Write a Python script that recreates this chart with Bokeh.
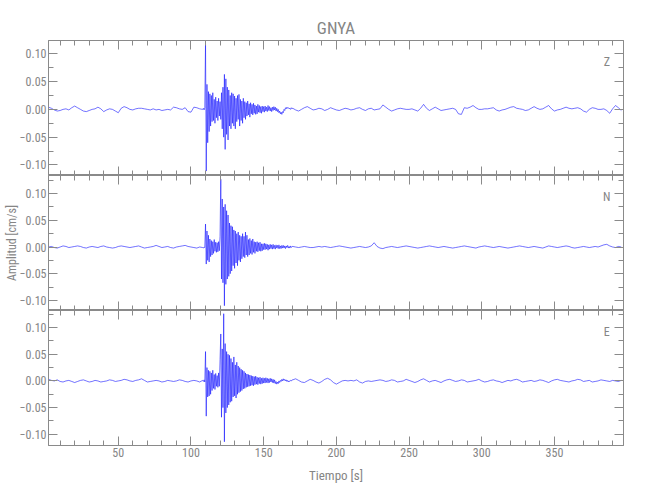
import numpy as np
from bokeh.plotting import figure
from bokeh.layouts import column
from bokeh.models import (LinearAxis, SingleIntervalTicker, CustomJSTickFormatter,
                          Range1d, Label, Title)
from bokeh.embed import file_html
from bokeh.resources import INLINE

# ---------------- data ----------------
STATION = "GNYA"
X_LABEL = "Tiempo [s]"
Y_LABEL = "Amplitud [cm/s]"
T_START, T_END = 2.0, 397.5
DT_QUIET = 2.0      # s, sampling of the quiet parts
DT_EVENT = 0.5      # s, sampling of peaks/troughs read in the event window
T_EVENT = 108.0
T_POST = 170.0
UNIT = 0.001        # values below are in 1e-3 cm/s

z_pre = [4, 2, -1, -3, -2, 0, 1, -1, 3, 6, 3, 0, -3, -4, -2, 0, 1, 4, 1, -4,
         -1, 1, 0, -3, -6, 2, 5, 3, 0, -1, 1, 2, 2, 1, 0, -1, 1, -1, 0, -2,
         -1, 0, -1, 4, 3, 1, 0, 3, -4, -5, 4, 3, 1]
z_event = [0, 2, -1, 3, 118, -111, 45, -60, 32, -40, 28, -30, 25, -22, 30, -20,
           18, -25, 22, -15, 15, -20, 20, -12, 14, -18, 30, -35, 40, -50, 63, -72,
           55, -45, 40, -55, 35, -30, 25, -35, 30, -25, 28, -30, 24, -35, 20, -22,
           25, -18, 27, -30, 18, -20, 15, -25, 20, -15, 14, -18, 12, -12, 15, -10,
           10, -14, 12, -8, 9, -10, 11, -7, 8, -9, 6, -8, 9, -5, 7, -6,
           5, -7, 6, -4, 5, -5, 6, -3, 4, -4, 7, -2, 5, -3, 3, -4,
           4, -2, 5, -1, 4, -3, 2, -4, 0, -6, -3, -8, -5, -9, -4, -6,
           0, -2, 3, 1, 4, 2, 3, 1, 2, 0, 3, 1]
z_post = [2, -1, -3, 0, 3, 5, 2, -1, 0, 2, 1, -2, 0, 3, 1, -1, -2, 0, 2, 1,
          -1, 0, 2, 3, 0, -2, 1, 2, -1, 0, 1,
          8, 4, 0, -3, -1, 1, 2, 1, 0, 0, 1, -1, -3, 2, 9, 2, -2, 1, 4, 1,
          -2, -1, 0, 1, 2, 0, -8, -9, 3, 2, 4, 7, 3, 0, 0, 1, 1, 2, 3, -1,
          -3, -1, 0, 2, 4, 5, 2, 1, 0, -2, -1, 2, 5, 2, 0, 1, 4, 7, 1, -3,
          -1, 0, 2, 4, 2, 1, 2, 3, 1, -3, -5, 0, 3, 2, 0, 0, 1, -2, -7, 1,
          7, 3, -2]

n_pre = [0, 1, -1, -2, 0, 2, 1, -1, 0, 1, 2, 1, -1, -2, 0, 1, 0, -1, 1, 2,
         0, -1, -2, -1, 1, 2, 1, 0, -1, 0, 1, 2, 0, -2, -1, 0, 1, 3, 1, -1,
         0, 1, -1, -2, 0, 1, 2, 3, 1, 0, -1, -2, 0]
n_event = [-1, -2, 0, -1, 43, -32, 30, -25, 22, -28, 15, -18, 12, -15, 10, -12,
           14, -8, 9, -10, 8, -9, 10, -7, 20, 127, -60, 90, -67, 75, -110, 80,
           -70, 68, -60, 60, -55, 45, -50, 40, -45, 38, -35, 32, -40, 30, -30, 25,
           -35, 28, -25, 22, -28, 20, -22, 25, -18, 20, -20, 28, -15, 22, -18, 14,
           -15, 16, -12, 12, -14, 15, -10, 10, -12, 9, -8, 10, -9, 8, -7, 9,
           -8, 6, -7, 6, -5, 7, -5, 6, -4, 5, -6, 4, -4, 5, -3, 4,
           -4, 5, -3, 3, -4, 4, -2, 3, -3, 4, -3, 2, -3, 3, -2, 3,
           -2, 2, -3, 2, -1, 3, -2, 1, -2, 2, -1, 1]
n_post = [1, 0, -1, 0, 1, 0, -1, -1, 0, 1, 0, 1, 0, -1, 0, 1, 2, 1, 0, -1,
          -2, -1, 0, 1, 0, -1, 0, 2, 8, 1, -2,
          -3, -1, 0, 1, 0, -1, 0, 1, 2, 1, 0, -1, -2, -1, 0, 1, 2, 1, 0, -1,
          0, 1, 0, -1, -2, -1, 0, 1, 2, 1, 0, -1, -2, 0, 1, 2, 1, 0, -1, 0,
          1, 0, -1, -2, -1, 0, 1, 2, 1, 0, -1, 0, 1, 0, -1, -2, 0, 2, 1, 0,
          -1, 0, 1, 2, 1, -1, -2, -1, 0, 1, 0, -1, 0, 1, 0, 2, 4, 5, 2, 0,
          -1, 1, 0]

e_pre = [3, 1, 0, 2, -1, -2, 0, 1, -1, -3, -1, 1, 2, 0, -2, -1, 1, 0, -2, -1,
         0, 2, 1, -1, 0, 1, 3, 2, 0, -1, 1, 2, 4, 1, -2, -1, 0, 1, 0, -2,
         -1, 1, 0, -1, 0, 2, 1, -1, -2, 0, 1, 0, -2]
e_event = [1, -1, 2, -2, 55, -66, 25, -30, 20, -28, 18, -25, 15, -18, 20, -14,
           12, -16, 14, -10, 10, -12, 15, -10, 40, 88, -68, 60, -50, 126, -114, 70,
           -60, 55, -50, 50, -45, 48, -40, 42, -38, 35, -30, 45, -28, 30, -32, 35,
           -25, 28, -22, 25, -20, 22, -18, 20, -15, 18, -14, 15, -12, 13, -11, 12,
           -10, 11, -9, 10, -8, 9, -9, 8, -7, 9, -6, 7, -7, 6, -5, 7,
           -6, 5, -5, 6, -4, 5, -4, 6, -3, 5, -4, 4, -3, 5, -2, 4,
           -3, 3, -4, 2, -5, -1, -6, -2, -5, 0, -3, 1, -1, 3, 0, 4,
           1, 3, 0, 2, -1, 1, -2, 0, -1, 1, 0, 2]
e_post = [2, 4, 1, -2, -3, 0, 3, 1, -2, -4, -1, 3, 5, 2, -3, -6, -3, 0, 1, 0,
          1, 0, 2, -2, -4, -1, 0, -1, 0, 1, 2,
          1, -1, 0, 2, 1, -2, -1, 0, 3, 1, -1, -3, -1, 2, 4, 1, -2, 0, 1, -1,
          -3, 0, 2, 3, 1, -1, 0, 2, 1, -2, -1, 0, 1, 3, 0, -2, -1, 1, 2, 0,
          -1, -3, -1, 1, 0, 2, 3, 1, -2, -1, 0, 1, -1, 0, 2, 1, -1, -3, 0, 2,
          3, 1, 0, -1, -2, 0, 1, 3, 2, -1, 0, 1, -2, -1, 0, 2, 1, 0, -1, 1,
          0, -1, 1]

COMPONENTS = ["Z", "N", "E"]
TRACES = {"Z": (z_pre, z_event, z_post),
          "N": (n_pre, n_event, n_post),
          "E": (e_pre, e_event, e_post)}
Y_RANGES = {"Z": (-0.119, 0.124), "N": (-0.119, 0.134), "E": (-0.121, 0.132)}
LETTER_Y = {"Z": 0.085, "N": 0.094, "E": 0.091}
LETTER_X = 386

# ---------------- style ----------------
FONT = "Liberation Sans Narrow, Roboto Condensed, Liberation Sans, sans-serif"
AXIS_COLOR = "#8a8a8a"
TEXT_COLOR = "#858585"
TRACE_COLOR = "#1010ff"
W = 642
FRAME_H = 135
LEFT, RIGHT = 48, 19
TOP, BOTTOM = 40, 50


def build_trace(pre, ev, post):
    t = np.concatenate([T_START + DT_QUIET * np.arange(len(pre)),
                        T_EVENT + DT_EVENT * np.arange(len(ev)),
                        T_POST + DT_QUIET * np.arange(len(post))])
    v = np.concatenate([pre, ev, post]) * UNIT
    return t, v


blank = CustomJSTickFormatter(code="return '';")
yfmt = CustomJSTickFormatter(
    code="if (Math.abs(tick) < 1e-9) return '0.00'; return tick.toFixed(2).replace('-', '\u2212');")


def style_axis(ax, labels):
    ax.axis_line_color = AXIS_COLOR
    ax.major_tick_line_color = AXIS_COLOR
    ax.minor_tick_line_color = AXIS_COLOR
    ax.major_tick_in = 9
    ax.major_tick_out = 0
    ax.minor_tick_in = 5
    ax.minor_tick_out = 0
    if labels:
        ax.major_label_text_font = FONT
        ax.major_label_text_font_size = "12px"
        ax.major_label_text_color = TEXT_COLOR
        ax.major_label_standoff = 2
    else:
        ax.formatter = blank
        ax.major_label_text_font_size = "0px"
        ax.major_label_standoff = 0


x_range = Range1d(T_START, T_END)
figs = []
for i, comp in enumerate(COMPONENTS):
    top = TOP if i == 0 else 0
    bottom = BOTTOM if i == 2 else 0
    p = figure(width=W, height=top + FRAME_H + bottom,
               x_range=x_range, y_range=Range1d(*Y_RANGES[comp]),
               output_backend="svg", toolbar_location=None,
               x_axis_location=None, y_axis_location=None,
               min_border_left=LEFT, min_border_right=RIGHT,
               min_border_top=top, min_border_bottom=bottom)
    p.grid.visible = False
    p.outline_line_color = AXIS_COLOR
    p.background_fill_color = "white"
    p.border_fill_color = "white"

    for loc in ("below", "above"):
        ax = LinearAxis(ticker=SingleIntervalTicker(interval=50, num_minor_ticks=5))
        style_axis(ax, labels=(loc == "below" and i == 2))
        p.add_layout(ax, loc)
    for loc in ("left", "right"):
        ax = LinearAxis(ticker=SingleIntervalTicker(interval=0.05, num_minor_ticks=2))
        style_axis(ax, labels=(loc == "left"))
        if loc == "left":
            ax.formatter = yfmt
        p.add_layout(ax, loc)

    if i == 1:
        lax = p.left[0]
        lax.axis_label = Y_LABEL
        lax.axis_label_text_font = FONT
        lax.axis_label_text_font_size = "12px"
        lax.axis_label_text_font_style = "normal"
        lax.axis_label_text_color = TEXT_COLOR
        lax.axis_label_standoff = -2
    if i == 2:
        bax = p.below[0]
        bax.axis_label = X_LABEL
        bax.axis_label_text_font = FONT
        bax.axis_label_text_font_size = "13px"
        bax.axis_label_text_font_style = "normal"
        bax.axis_label_text_color = TEXT_COLOR
        bax.axis_label_standoff = 8
    if i == 0:
        p.title = Title(text=STATION, align="center", text_font=FONT,
                        text_font_size="17px", text_font_style="normal",
                        text_color=TEXT_COLOR, standoff=5)

    t, v = build_trace(*TRACES[comp])
    p.line(t, v, line_color=TRACE_COLOR, line_width=0.9, line_alpha=0.65)
    p.add_layout(Label(x=LETTER_X, y=LETTER_Y[comp], text=comp,
                       text_font=FONT, text_font_size="12px",
                       text_color=TEXT_COLOR, text_align="center",
                       text_baseline="middle"))
    figs.append(p)

layout = column(*figs, spacing=0)
open("out.html", "w").write(file_html(layout, INLINE))
